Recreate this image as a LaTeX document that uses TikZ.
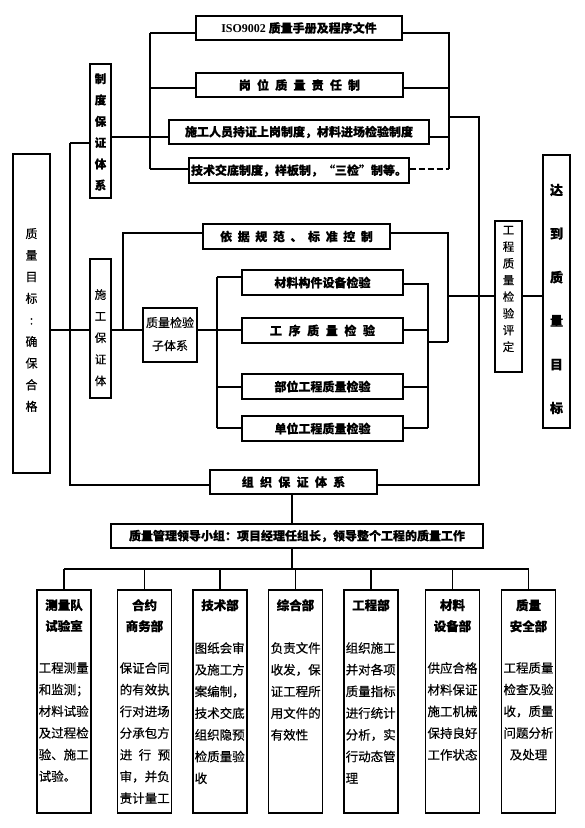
\documentclass[tikz,border=0pt]{standalone}
\usepackage{fontspec}
\setmainfont{Noto Sans CJK SC}[FakeBold=0.35]
\newfontfamily\latf{Liberation Serif}
\begin{document}
\begin{tikzpicture}[x=1pt,y=-1pt,
  every node/.style={inner sep=0pt,font=\fontsize{12}{14}\selectfont\bfseries},
  box/.style={draw,line width=1.3pt},
  ln/.style={line width=1.6pt},
  vt/.style={align=center},
  tt/.style={align=center,font=\fontsize{12.5}{21}\selectfont\bfseries},
  bt/.style={align=left,anchor=north west,font=\fontsize{12.5}{21.7}\selectfont},
  bc/.style={align=center,anchor=north,font=\fontsize{12.5}{21.7}\selectfont}]
\useasboundingbox (0,0) rectangle (585,828);
% ---------- boxes ----------
\node[box,minimum width=206pt,minimum height=24pt] (iso) at (299,28) {{\latf\bfseries ISO9002} 质量手册及程序文件};
\node[box,minimum width=207pt,minimum height=24pt] (gw) at (299.5,85) {岗\hspace{6.2pt}位\hspace{6.2pt}质\hspace{6.2pt}量\hspace{6.2pt}责\hspace{6.2pt}任\hspace{6.2pt}制};
\node[box,minimum width=260pt,minimum height=24pt] (sg) at (299,132) {施工人员持证上岗制度，材料进场检验制度};
\node[box,minimum width=220pt,minimum height=25pt] (js) at (299,170.5) {技术交底制度，样板制，“三检”制等。};
\node[box,minimum width=21pt,minimum height=134pt] (zd) at (100.5,131) {};
\node[vt,font=\fontsize{11.5}{21.3}\selectfont\bfseries] (zdt) at (100.5,132) {制\\度\\保\\证\\体\\系};
\node[box,minimum width=37pt,minimum height=319pt] (goal) at (31.5,313.5) {};
\node[vt,font=\fontsize{12}{21.6}\selectfont] (goalt) at (31.5,320) {质\\量\\目\\标\\:\\确\\保\\合\\格};
\node[box,minimum width=21pt,minimum height=139pt] (sgbz) at (100.5,328.5) {};
\begin{scope}
\clip (90,259) rectangle (111,397);
\node[vt,anchor=north,font=\fontsize{11.5}{21.6}\selectfont] (sgbzt) at (100.5,289) {施\\工\\保\\证\\体\\系};
\end{scope}
\node[box,minimum width=187pt,minimum height=25pt] (yj) at (296.5,236.5) {依\hspace{5.6pt}据\hspace{5.6pt}规\hspace{5.6pt}范\hspace{5.6pt}、\hspace{5.6pt}标\hspace{5.6pt}准\hspace{5.6pt}控\hspace{5.6pt}制};
\node[box,minimum width=54pt,minimum height=54pt] (zj) at (170,335) {};
\node[vt,font=\fontsize{12}{23}\selectfont] (zjt) at (170,334) {质量检验\\子体系};
\node[box,minimum width=161pt,minimum height=25pt] (cl) at (322.5,282.5) {材料构件设备检验};
\node[box,minimum width=161pt,minimum height=25pt] (gx) at (322.5,330.5) {工\hspace{6.6pt}序\hspace{6.6pt}质\hspace{6.6pt}量\hspace{6.6pt}检\hspace{6.6pt}验};
\node[box,minimum width=161pt,minimum height=25pt] (bw) at (322.5,386.5) {部位工程质量检验};
\node[box,minimum width=161pt,minimum height=25pt] (dw) at (322.5,428.5) {单位工程质量检验};
\node[box,minimum width=27pt,minimum height=151pt] (pd) at (508.5,296.5) {};
\node[vt,font=\fontsize{11.5}{16.7}\selectfont] (pdt) at (508.5,289) {工\\程\\质\\量\\检\\验\\评\\定};
\node[box,minimum width=27pt,minimum height=273pt] (dd) at (556.5,291.5) {};
\node[vt,font=\fontsize{13}{43.6}\selectfont\bfseries] (ddt) at (556.5,299) {达\\到\\质\\量\\目\\标};
\node[box,minimum width=167pt,minimum height=24pt] (zz) at (293.5,482) {组\hspace{6.3pt}织\hspace{6.3pt}保\hspace{6.3pt}证\hspace{6.3pt}体\hspace{6.3pt}系};
\node[box,minimum width=372pt,minimum height=24pt] (ld) at (297,536) {质量管理领导小组：项目经理任组长，领导整个工程的质量工作};
% bottom boxes
\foreach \n/\x in {b1/64,b2/144.5,b3/220,b4/295.5,b5/371,b6/452.5,b7/528.5}
  \node[box,minimum width=54pt,minimum height=223pt] (\n) at (\x,701.5) {};
\node[tt,anchor=north] (t1) at (64,599) {测量队\\试验室};
\node[tt,anchor=north] (t2) at (144.5,599) {合约\\商务部};
\node[tt,anchor=north] (t3) at (220,599) {技术部};
\node[tt,anchor=north] (t4) at (295.5,599) {综合部};
\node[tt,anchor=north] (t5) at (371,599) {工程部};
\node[tt,anchor=north] (t6) at (452.5,599) {材料\\设备部};
\node[tt,anchor=north] (t7) at (528.5,599) {质量\\安全部};
\node[bt] (c1) at (38.5,662) {工程测量\\和监测；\\材料试验\\及过程检\\验、施工\\试验。};
\node[bt] (c2) at (119.5,662) {保证合同\\的有效执\\行对进场\\分承包方\\进\hspace{6.5pt}行\hspace{6.5pt}预\\审，并负\\责计量工};
\node[bt] (c3) at (194.5,642) {图纸会审\\及施工方\\案编制，\\技术交底\\组织隐预\\检质量验\\收};
\node[bt] (c4) at (270.5,642) {负责文件\\收发，保\\证工程所\\用文件的\\有效性};
\node[bt] (c5) at (345.5,642) {组织施工\\并对各项\\质量指标\\进行统计\\分析，实\\行动态管\\理};
\node[bc] (c6) at (452.5,662) {供应合格\\材料保证\\施工机械\\保持良好\\工作状态};
\node[bc] (c7) at (528.5,662) {工程质量\\检查及验\\收，质量\\问题分析\\及处理};
% ---------- coordinates ----------
\coordinate (yM) at (0,330);
\coordinate (T1) at (70,143); \coordinate (T2) at (70,485);
\coordinate (L1) at (150,33); \coordinate (L2) at (150,88);
\coordinate (L3) at (150,137); \coordinate (L4) at (150,169);
\coordinate (R1) at (449,33); \coordinate (R2) at (449,88);
\coordinate (R3) at (449,137); \coordinate (R4) at (449,169);
\coordinate (R5) at (449,117); \coordinate (V1) at (479,117); \coordinate (V2) at (479,485);
\coordinate (S1) at (123,330); \coordinate (S2) at (123,233);
\coordinate (C1) at (217,277); \coordinate (C2) at (217,330);
\coordinate (C3) at (217,387); \coordinate (C4) at (217,428);
\coordinate (B1) at (428,284); \coordinate (B2) at (428,330);
\coordinate (B3) at (428,387); \coordinate (B4) at (428,428); \coordinate (B5) at (428,342);
\coordinate (A1) at (448,233); \coordinate (A2) at (448,342); \coordinate (A3) at (448,296);
\coordinate (vx) at (292,0); \coordinate (bus) at (292,569);
% ---------- connectors ----------
\draw[ln] (goal.east |- yM) -- (sgbz.west |- yM);
\draw[ln] (sgbz.east |- yM) -- (zj.west |- yM);
\draw[ln] (T1) -- (T2) -- (zz.west |- T2);
\draw[ln] (T1) -- (zd.west |- T1);
\draw[ln] (zd.east |- L3) -- (L3);
\draw[ln] (L1) -- (L4);
\draw[ln] (L1) -- (iso.west |- L1);
\draw[ln] (L2) -- (gw.west |- L2);
\draw[ln] (L3) -- (sg.west |- L3);
\draw[ln] (L4) -- (js.west |- L4);
\draw[ln] (iso.east |- R1) -- (R1) -- (R4);
\draw[ln] (gw.east |- R2) -- (R2);
\draw[ln] (sg.east |- R3) -- (R3);
\draw[ln,dash pattern=on 6pt off 3pt] (js.east |- R4) -- (R4);
\draw[ln] (R5) -- (V1) -- (V2) -- (zz.east |- V2);
\draw[ln] (S1) -- (S2) -- (yj.west |- S2);
\draw[ln] (zj.east |- C2) -- (C2);
\draw[ln] (C1) -- (C4);
\draw[ln] (C1) -- (cl.west |- C1);
\draw[ln] (C2) -- (gx.west |- C2);
\draw[ln] (C3) -- (bw.west |- C3);
\draw[ln] (C4) -- (dw.west |- C4);
\draw[ln] (cl.east |- B1) -- (B1) -- (B4);
\draw[ln] (gx.east |- B2) -- (B2);
\draw[ln] (bw.east |- B3) -- (B3);
\draw[ln] (dw.east |- B4) -- (B4);
\draw[ln] (B5) -- (A2);
\draw[ln] (yj.east |- A1) -- (A1) -- (A2);
\draw[ln] (A3) -- (pd.west |- A3);
\draw[ln] (pd.east |- A3) -- (dd.west |- A3);
\draw[ln] (zz.south -| vx) -- (ld.north -| vx);
\draw[ln] (ld.south -| vx) -- (bus);
\draw[ln] (b1.north |- bus) -- (b7.north |- bus);
\foreach \n in {b1,b2,b3,b4,b5,b6,b7}
  \draw[ln] (\n.north |- bus) -- (\n.north);
\end{tikzpicture}
\end{document}
